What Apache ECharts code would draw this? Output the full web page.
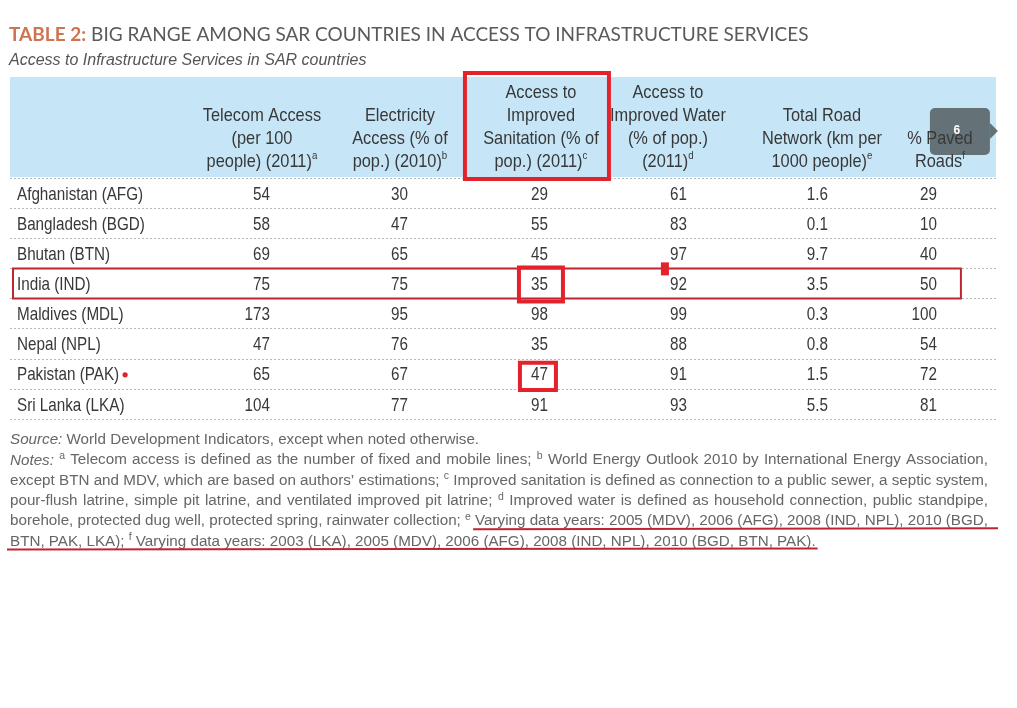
<!DOCTYPE html>
<html><head><meta charset="utf-8">
<style>html,body{margin:0;padding:0;background:#fff}#c{width:1017px;height:708px}</style>
<script src="https://cdn.jsdelivr.net/npm/echarts@6/dist/echarts.min.js"></script>
</head><body><div id="c"></div>
<script>
// ---------------- data ----------------
const countries = ['Afghanistan (AFG)','Bangladesh (BGD)','Bhutan (BTN)','India (IND)','Maldives (MDL)','Nepal (NPL)','Pakistan (PAK)','Sri Lanka (LKA)'];
const headerLines = [
  ['Telecom Access','(per 100','people) (2011){sup|a}'],
  ['Electricity','Access (% of','pop.) (2010){sup|b}'],
  ['Access to','Improved','Sanitation (% of','pop.) (2011){sup|c}'],
  ['Access to','Improved Water','(% of pop.)','(2011){sup|d}'],
  ['Total Road','Network (km per','1000 people){sup|e}'],
  ['% Paved','Roads{sup|f}']
];
const telecom     = [54, 58, 69, 75, 173, 47, 65, 104];
const electricity = [30, 47, 65, 75, 95, 76, 67, 77];
const sanitation  = [29, 55, 45, 35, 98, 35, 47, 91];
const water       = [61, 83, 97, 92, 99, 88, 91, 93];
const roadNetwork = [1.6, 0.1, 9.7, 3.5, 0.3, 0.8, 1.5, 5.5];
const pavedRoads  = [29, 10, 40, 50, 100, 54, 72, 81];
const titleLead = 'TABLE 2:';
const titleRest = 'BIG RANGE AMONG SAR COUNTRIES IN ACCESS TO INFRASTRUCTURE SERVICES';
const subtitle = 'Access to Infrastructure Services in SAR countries';
const noteLines = [
  'Source: World Development Indicators, except when noted otherwise.',
  'Notes: ^a Telecom access is defined as the number of fixed and mobile lines; ^b World Energy Outlook 2010 by International Energy Association,',
  'except BTN and MDV, which are based on authors’ estimations; ^c Improved sanitation is defined as connection to a public sewer, a septic system,',
  'pour-flush latrine, simple pit latrine, and ventilated improved pit latrine; ^d Improved water is defined as household connection, public standpipe,',
  'borehole, protected dug well, protected spring, rainwater collection; ^e Varying data years: 2005 (MDV), 2006 (AFG), 2008 (IND, NPL), 2010 (BGD,',
  'BTN, PAK, LKA); ^f Varying data years: 2003 (LKA), 2005 (MDV), 2006 (AFG), 2008 (IND, NPL), 2010 (BGD, BTN, PAK).'
];

// ---------------- layout / style ----------------
const FAM = "'Liberation Sans',Arial,sans-serif";
const BODY_SIZE = 18.5;
const BODY_FONT = BODY_SIZE + 'px ' + FAM;
const SX = 0.823;           // horizontal condensing of table body text
const SX_HEAD = 0.885;      // horizontal condensing of header text
const TXT = '#383838';
const XMIN = -1.784, XMAX = 5.31;
const columns = [telecom, electricity, sanitation, water, roadNetwork, pavedRoads];
const decimals = [0, 0, 0, 0, 1, 0];
const valueNudge = [12, 11, 12, 12, 14, -16];
const headerNudge = [4, 3, 5, -7, 8, -13];
const TEXT_DY = 1.5;

const chart = echarts.init(document.getElementById('c'));

const cellData = [];
columns.forEach((col, ci) => col.forEach((v, ri) => cellData.push([ci, countries[ri], v])));

const series = [
  { // table values
    type: 'custom', xAxisIndex: 0, yAxisIndex: 0, silent: true,
    data: cellData,
    renderItem: (params, api) => {
      const ci = api.value(0);
      const p = api.coord([ci, api.value(1)]);
      return {type: 'text', x: p[0] + valueNudge[ci], y: p[1] + TEXT_DY, scaleX: SX,
        style: {text: Number(api.value(2)).toFixed(decimals[ci]), font: BODY_FONT, fill: TXT,
                align: 'right', textAlign: 'right', verticalAlign: 'middle', textVerticalAlign: 'middle'}};
    }
  },
  { // row labels (country names)
    type: 'custom', xAxisIndex: 0, yAxisIndex: 0, silent: true,
    data: countries.map(c => [XMIN, c]),
    renderItem: (params, api) => {
      const p = api.coord([api.value(0), api.value(1)]);
      return {type: 'text', x: p[0] + 7, y: p[1] + TEXT_DY, scaleX: SX,
        style: {text: countries[params.dataIndex], font: BODY_FONT, fill: TXT,
                align: 'left', textAlign: 'left', verticalAlign: 'middle', textVerticalAlign: 'middle'}};
    }
  },
  { // column headers
    type: 'custom', xAxisIndex: 1, yAxisIndex: 1, silent: true,
    data: headerLines.map((h, i) => [i, 0]),
    renderItem: (params, api) => {
      const i = params.dataIndex;
      const p = api.coord([api.value(0), api.value(1)]);
      return {type: 'text', x: p[0] + headerNudge[i], y: p[1] - 4, scaleX: SX_HEAD,
        style: {text: headerLines[i].join('\n'), font: BODY_FONT, fill: TXT, lineHeight: 23,
                align: 'center', textAlign: 'center', verticalAlign: 'bottom', textVerticalAlign: 'bottom',
                rich: {sup: {fontSize: 11, fontFamily: FAM, lineHeight: 11, verticalAlign: 'top', fill: TXT}}}};
    }
  }
];

const option = {
  animation: false,
  backgroundColor: '#fff',
  title: [
    {left: 9, top: 25, padding: 0, text: '{a|' + titleLead + '} {b|' + titleRest + '}',
     textStyle: {rich: {
       a: {fontFamily: 'Lato', fontWeight: 'bold', fontSize: 19, color: '#cf7450'},
       b: {fontFamily: 'Lato', fontWeight: 'normal', fontSize: 19, color: '#5a5a5a'}}}},
    {left: 9, top: 53, padding: 0, text: subtitle,
     textStyle: {fontFamily: FAM, fontStyle: 'italic', fontWeight: 'normal', fontSize: 16, color: '#555'}}
  ],
  grid: [
    {left: 10, right: 21, top: 178, height: 241},
    {left: 10, right: 21, top: 77, height: 100, show: true, backgroundColor: '#c6e6f7', borderWidth: 0}
  ],
  xAxis: [
    {type: 'value', gridIndex: 0, min: XMIN, max: XMAX, show: false},
    {type: 'value', gridIndex: 1, min: XMIN, max: XMAX, show: false}
  ],
  yAxis: [
    {type: 'category', gridIndex: 0, data: countries, inverse: true,
     axisLine: {show: false}, axisTick: {show: false}, axisLabel: {show: false},
     splitLine: {show: true, lineStyle: {type: [2, 2], color: '#b8b8b8', width: 1}}},
    {type: 'value', gridIndex: 1, min: 0, max: 1, show: false}
  ],
  series
};
chart.setOption(option);

// ---------------- annotations & notes ----------------
const ctx = document.createElement('canvas').getContext('2d');
function measure(text, font) { ctx.font = font; return ctx.measureText(text).width; }
const xPix = v => chart.convertToPixel({xAxisIndex: 0}, v);
const yPix = name => chart.convertToPixel({yAxisIndex: 0}, name);
const rowH = 241 / countries.length;
const gfx = [];
const RED = '#e3222b', DARKRED = '#bf2530';

// notes, justified
const NOTE_SIZE = 15.2, NOTE_COLOR = '#666';
const left = 10, right = 988, lineY0 = 440, lineStep = 20.3;
const justify = [false, true, true, true, true, false];
const italicWords = new Set(['Source:', 'Notes:']);
const wordPos = [];
noteLines.forEach((line, li) => {
  const words = line.split(' ');
  const toks = words.map(w => {
    const sup = w.startsWith('^');
    const text = sup ? w.slice(1) : w;
    const font = (italicWords.has(w) ? 'italic ' : '') + (sup ? 10.5 : NOTE_SIZE) + 'px ' + FAM;
    return {text, sup, font, w: measure(text, font)};
  });
  const total = toks.reduce((s, t) => s + t.w, 0);
  const natGap = measure(' ', NOTE_SIZE + 'px ' + FAM);
  const gap = justify[li] ? (right - left - total) / (toks.length - 1) : natGap;
  let x = left;
  const y = lineY0 + li * lineStep;
  const pos = [];
  toks.forEach(t => {
    gfx.push({type: 'text', x, y: t.sup ? y - 4 : y, silent: true,
      style: {text: t.text, font: t.font, fill: NOTE_COLOR, textAlign: 'left', textVerticalAlign: 'middle'}});
    pos.push({text: t.text, x, end: x + t.w});
    x += t.w + gap;
  });
  wordPos.push({y, pos});
});
// underlines
const l4 = wordPos[4], l5 = wordPos[5];
const v4 = l4.pos.find(p => p.text === 'Varying');
gfx.push({type: 'polyline', silent: true, shape: {points: [[v4.x - 2, l4.y + 8], [l4.pos[l4.pos.length - 1].end + 10, l4.y + 7]]},
  style: {stroke: DARKRED, lineWidth: 2, fill: null}});
gfx.push({type: 'polyline', silent: true, shape: {points: [[7, l5.y + 8], [l5.pos[l5.pos.length - 1].end + 2, l5.y + 7]]},
  style: {stroke: DARKRED, lineWidth: 2, fill: null}});

// header box around sanitation column
const cSan = xPix(2);
gfx.push({type: 'rect', silent: true, shape: {x: cSan - 71, y: 73, width: 144, height: 106},
  style: {fill: null, stroke: RED, lineWidth: 4}});
// India row box
const yInd = yPix('India (IND)');
gfx.push({type: 'rect', silent: true, shape: {x: 13, y: yInd - rowH / 2, width: xPix(5) + 8 - 13, height: rowH},
  style: {fill: null, stroke: DARKRED, lineWidth: 2}});
// box around India sanitation value
gfx.push({type: 'rect', silent: true, shape: {x: cSan - 17, y: yInd - rowH / 2 - 1, width: 44, height: rowH + 4},
  style: {fill: null, stroke: RED, lineWidth: 4}});
// small red marker near water column
const cWat = xPix(3);
gfx.push({type: 'rect', silent: true, shape: {x: cWat - 14, y: yInd - rowH / 2 - 6, width: 8, height: 13},
  style: {fill: RED}});
// box around Pakistan sanitation value
const yPak = yPix('Pakistan (PAK)');
gfx.push({type: 'rect', silent: true, shape: {x: cSan - 16, y: yPak - rowH / 2 + 4, width: 36, height: rowH - 3},
  style: {fill: null, stroke: RED, lineWidth: 4}});
// red dot after Pakistan
const wPak = measure('Pakistan (PAK)', BODY_FONT) * SX;
gfx.push({type: 'circle', silent: true, shape: {cx: 17 + wPak + 6, cy: yPak + 1, r: 2.6}, style: {fill: RED}});
// grey page-number tab
const cPav = xPix(5);
gfx.push({type: 'rect', silent: true, shape: {x: cPav - 23, y: 108, width: 60, height: 47, r: 5},
  style: {fill: 'rgba(78,88,92,0.82)'}});
gfx.push({type: 'polygon', silent: true, shape: {points: [[cPav + 37, 123], [cPav + 45, 131], [cPav + 37, 139]]},
  style: {fill: 'rgba(78,88,92,0.82)'}});
gfx.push({type: 'text', silent: true, x: cPav + 4, y: 131,
  style: {text: '6', font: 'bold 12px ' + FAM, fill: '#fff', textAlign: 'center', textVerticalAlign: 'middle'}});

chart.setOption({graphic: {elements: gfx}});
</script>
</body></html>
